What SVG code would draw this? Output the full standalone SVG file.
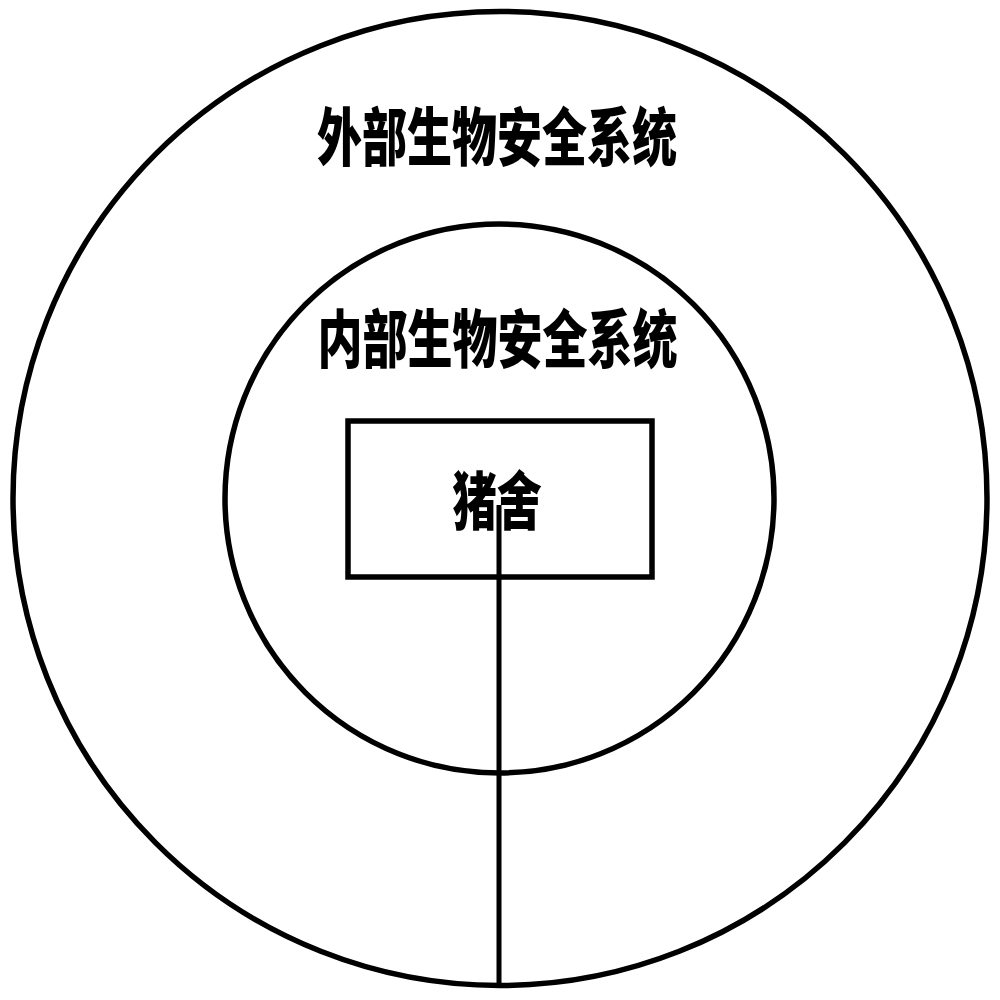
<svg xmlns="http://www.w3.org/2000/svg" width="1000" height="1000" viewBox="0 0 1000 1000">
<style>
.ring{fill:none;stroke:#000;stroke-width:5.5}
.box{fill:none;stroke:#000;stroke-width:5.5}
.lbl{font-family:"Noto Sans CJK SC","Noto Sans CJK TC",sans-serif;font-weight:900;font-size:45px;fill:#000;text-anchor:middle;dominant-baseline:central}
.conn{stroke:#000;stroke-width:5;fill:none}
</style>
<rect width="1000" height="1000" fill="#fff"/>
<g id="outer">
<circle class="ring" cx="500" cy="498.5" r="487"/>
<text class="lbl" transform="translate(497,133) scale(1,1.4)">外部生物安全系统</text>
</g>
<g id="inner">
<circle class="ring" cx="499.5" cy="498.5" r="274.5"/>
<text class="lbl" transform="translate(497.5,335) scale(1,1.4)">内部生物安全系统</text>
</g>
<g id="pigsty">
<rect class="box" x="348" y="421" width="304" height="156"/>
<text class="lbl" transform="translate(497,497) scale(1,1.4)">猪舍</text>
</g>
<g id="connectors">
<line class="conn" x1="499" y1="505" x2="499" y2="988"/>
</g>
</svg>
